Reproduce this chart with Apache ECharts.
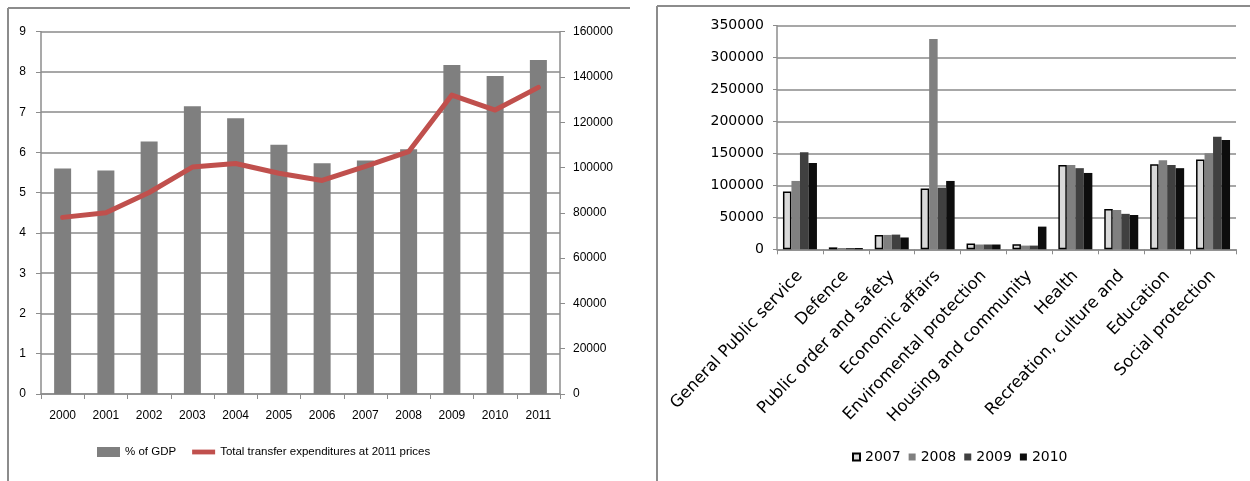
<!DOCTYPE html>
<html>
<head>
<meta charset="utf-8">
<script src="https://cdn.jsdelivr.net/npm/echarts@6/dist/echarts.min.js"></script>
<style>
html,body{margin:0;padding:0;background:#fff;}
#c{width:1250px;height:481px;}
</style>
</head>
<body>
<div id="c"></div>
<script>
// ---- Left chart data ----
const years = ['2000','2001','2002','2003','2004','2005','2006','2007','2008','2009','2010','2011'];
const gdpShare = [5.6, 5.55, 6.27, 7.15, 6.85, 6.19, 5.73, 5.8, 6.08, 8.17, 7.9, 8.3];
const transfers = [78000, 80000, 89000, 100200, 101800, 97500, 94300, 100500, 107000, 132000, 125400, 135400];

// ---- Right chart data ----
const functions = ['General Public service','Defence','Public order and safety','Economic affairs','Enviromental protection','Housing and community','Health','Recreation, culture and','Education','Social protection'];
const y2007 = [90500, 3000, 22500, 95000, 9000, 7800, 132000, 63000, 133000, 140500];
const y2008 = [107000, 2000, 22500, 329000, 7500, 5800, 132000, 61500, 139500, 150500];
const y2009 = [152000, 2000, 23000, 96500, 7500, 5800, 127000, 55500, 132000, 176000];
const y2010 = [135000, 2000, 18500, 107000, 7500, 35500, 119500, 53700, 127000, 171000];

const leftFont = 'Liberation Sans, Arial, sans-serif';
const rightFont = 'DejaVu Sans, Arial, sans-serif';
const frameColor = '#8c8c8c';
const gridColor = '#8a8a8a';
const plain = v => String(v);

const chart = echarts.init(document.getElementById('c'), null, {renderer:'canvas'});

const option = {
  animation: false,
  backgroundColor: '#fff',
  graphic: [
    {type:'line', shape:{x1:8, y1:8, x2:630, y2:8}, style:{stroke:frameColor, lineWidth:2}},
    {type:'line', shape:{x1:8, y1:8, x2:8, y2:481}, style:{stroke:frameColor, lineWidth:2}},
    {type:'line', shape:{x1:657, y1:6, x2:1250, y2:6}, style:{stroke:frameColor, lineWidth:2}},
    {type:'line', shape:{x1:657, y1:6, x2:657, y2:481}, style:{stroke:frameColor, lineWidth:2}}
  ],
  legend: [
    {
      left: 97, top: 446, padding: 0,
      itemWidth: 23, itemHeight: 10, itemGap: 16,
      textStyle: {fontFamily: leftFont, fontSize: 11.5, color:'#000'},
      data: [
        {name:'% of GDP', icon:'rect'},
        {name:'Total transfer expenditures at 2011 prices', icon:'path://M0,0 L0,0 M0,10 L0,10 M0,2.6 L23,2.6 L23,7.4 L0,7.4 Z'}
      ]
    },
    {
      left: 852, top: 450, padding: 0,
      itemWidth: 7, itemHeight: 7, itemGap: 8,
      textStyle: {fontFamily: rightFont, fontSize: 14, color:'#000'},
      data: ['2007','2008','2009','2010'].map(n => ({name:n, icon:'rect'}))
    }
  ],
  grid: [
    {left: 41, right: 690, top: 31.7, bottom: 87, containLabel:false},
    {left: 777, right: 14, top: 25.7, bottom: 231.7, containLabel:false}
  ],
  xAxis: [
    {
      type:'category', gridIndex:0, data: years,
      axisLine:{lineStyle:{color:'#8c8c8c', width:1.5}},
      axisTick:{show:true, length:5, lineStyle:{color:'#8c8c8c'}},
      axisLabel:{fontFamily:leftFont, fontSize:12, color:'#000', margin:16}
    },
    {
      type:'category', gridIndex:1, data: functions,
      axisLine:{lineStyle:{color:'#8c8c8c', width:1.5}},
      axisTick:{show:true, length:5, lineStyle:{color:'#8c8c8c'}},
      axisLabel:{fontFamily:rightFont, fontSize:16.5, color:'#000', rotate:46.5, margin:24, interval:0}
    }
  ],
  yAxis: [
    {
      type:'value', gridIndex:0, min:0, max:9, interval:1, position:'left',
      axisLine:{show:true, lineStyle:{color:'#8c8c8c', width:1.5}},
      axisTick:{show:true, length:5, lineStyle:{color:'#8c8c8c'}},
      splitLine:{lineStyle:{color:gridColor, width:1.5}},
      axisLabel:{fontFamily:leftFont, fontSize:12, color:'#000', margin:15, formatter:plain}
    },
    {
      type:'value', gridIndex:0, min:0, max:160000, interval:20000, position:'right',
      axisLine:{show:true, lineStyle:{color:'#8c8c8c', width:1.5}},
      axisTick:{show:true, length:5, lineStyle:{color:'#8c8c8c'}},
      splitLine:{show:false},
      axisLabel:{fontFamily:leftFont, fontSize:12, color:'#000', margin:13, formatter:plain}
    },
    {
      type:'value', gridIndex:1, min:0, max:350000, interval:50000,
      axisLine:{show:true, lineStyle:{color:'#8c8c8c', width:1.5}},
      axisTick:{show:true, length:4, lineStyle:{color:'#8c8c8c'}},
      splitLine:{lineStyle:{color:gridColor, width:1.5}},
      axisLabel:{fontFamily:rightFont, fontSize:14, color:'#000', margin:13, formatter:plain}
    }
  ],
  series: [
    {
      name:'% of GDP', type:'bar', xAxisIndex:0, yAxisIndex:0, data: gdpShare,
      barWidth: 17, itemStyle:{color:'#7f7f7f'}
    },
    {
      name:'Total transfer expenditures at 2011 prices', type:'line', xAxisIndex:0, yAxisIndex:1, data: transfers,
      symbol:'none', itemStyle:{color:'#c0504d'},
      lineStyle:{color:'#c0504d', width:5, cap:'round', join:'round'}
    },
    {
      name:'2007', type:'bar', xAxisIndex:1, yAxisIndex:2, data:y2007, barWidth:8.5, barGap:'0%',
      itemStyle:{color:'#d9d9d9', borderColor:'#000', borderWidth:1.5}
    },
    {
      name:'2008', type:'bar', xAxisIndex:1, yAxisIndex:2, data:y2008, barWidth:8.5, barGap:'0%',
      itemStyle:{color:'#808080'}
    },
    {
      name:'2009', type:'bar', xAxisIndex:1, yAxisIndex:2, data:y2009, barWidth:8.5, barGap:'0%',
      itemStyle:{color:'#404040'}
    },
    {
      name:'2010', type:'bar', xAxisIndex:1, yAxisIndex:2, data:y2010, barWidth:8.5, barGap:'0%',
      itemStyle:{color:'#0d0d0d'}
    }
  ]
};
chart.setOption(option);
</script>
</body>
</html>
